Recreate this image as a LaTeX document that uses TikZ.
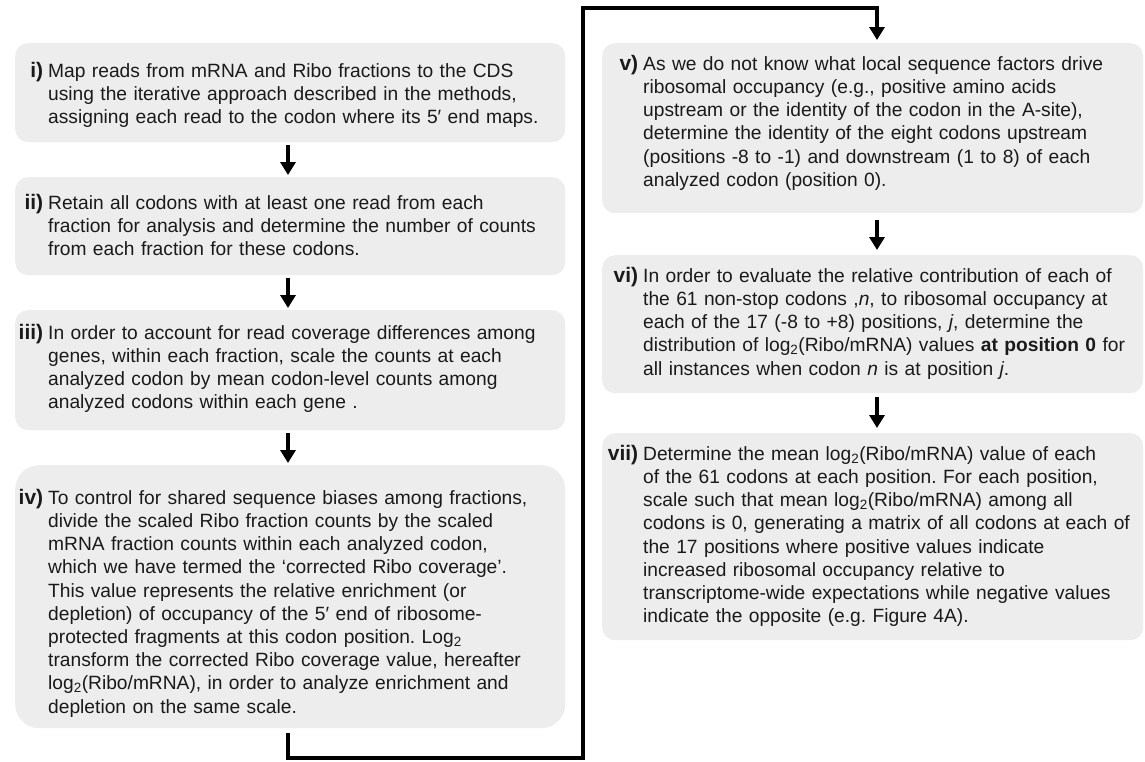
\documentclass[tikz,border=0pt]{standalone}
\usepackage{fontspec}
\setmainfont{Liberation Sans}
\usetikzlibrary{arrows.meta,calc}
\definecolor{boxgray}{HTML}{EDEDED}
\definecolor{ink}{HTML}{1A1A1A}
\newcommand{\steplbl}[1]{\strut\llap{\fontsize{21}{23.2}\selectfont\bfseries #1\hspace{5pt}}}
\newcommand{\mylog}{log\textsubscript{2}}
\frenchspacing
\begin{document}
\begin{tikzpicture}[x=1pt,y=-1pt,
  stepbox/.style={fill=boxgray, rounded corners=13pt, inner sep=0pt, anchor=north west},
  txt/.style={anchor=north west, inner sep=0pt, align=left, text width=560pt, text=ink,
    font=\fontsize{19.2}{23.2}\selectfont\frenchspacing},
  arr/.style={line width=4pt, draw=black, -{Triangle[width=15pt,length=13pt]}}]
\useasboundingbox (0,0) rectangle (1145,761);
\fill[white] (0,0) rectangle (1145,761);
% boxes
\node[stepbox, minimum width=550pt, minimum height=99pt] (b1) at (15,43) {};
\node[stepbox, minimum width=550pt, minimum height=98pt] (b2) at (15,177) {};
\node[stepbox, minimum width=550pt, minimum height=120pt] (b3) at (15,310) {};
\node[stepbox, rounded corners=24pt, minimum width=550pt, minimum height=263pt] (b4) at (15,465) {};
\node[stepbox, minimum width=541pt, minimum height=170pt] (b5) at (602,43) {};
\node[stepbox, minimum width=541pt, minimum height=138pt] (b6) at (602,255) {};
\node[stepbox, minimum width=541pt, minimum height=207pt] (b7) at (602,433) {};
% texts
\node[txt] (t1) at (48,60.76) {\steplbl{i)}Map reads from mRNA and Ribo fractions to the CDS\\
using the iterative approach described in the methods,\\
assigning each read to the codon where its 5′ end maps.};
\node[txt] (t2) at (48,192.76) {\steplbl{ii)}Retain all codons with at least one read from each\\
fraction for analysis and determine the number of counts\\
from each fraction for these codons.};
\node[txt] (t3) at (48,322.76) {\steplbl{iii)}In order to account for read coverage differences among\\
genes, within each fraction, scale the counts at each\\
analyzed codon by mean codon-level counts among\\
analyzed codons within each gene .};
\node[txt] (t4) at (48,487.76) {\steplbl{iv)}To control for shared sequence biases among fractions,\\
divide the scaled Ribo fraction counts by the scaled\\
mRNA fraction counts within each analyzed codon,\\
which we have termed the ‘corrected Ribo coverage’.\\
This value represents the relative enrichment (or\\
depletion) of occupancy of the 5′ end of ribosome-\\
protected fragments at this codon position. Log\textsubscript{2}\\
transform the corrected Ribo coverage value, hereafter\\
\mylog(Ribo/mRNA), in order to analyze enrichment and\\
depletion on the same scale.};
\node[txt] (t5) at (643,53.76) {\steplbl{v)}As we do not know what local sequence factors drive\\
ribosomal occupancy (e.g., positive amino acids\\
upstream or the identity of the codon in the A-site),\\
determine the identity of the eight codons upstream\\
(positions -8 to -1) and downstream (1 to 8) of each\\
analyzed codon (position 0).};
\node[txt] (t6) at (643,265.76) {\steplbl{vi)}In order to evaluate the relative contribution of each of\\
the 61 non-stop codons ,\textit{n}, to ribosomal occupancy at\\
each of the 17 (-8 to +8) positions, \textit{j}, determine the\\
distribution of \mylog(Ribo/mRNA) values \textbf{at position 0} for\\
all instances when codon \textit{n} is at position \textit{j}.};
\node[txt] (t7) at (643,443.76) {\steplbl{vii)}Determine the mean \mylog(Ribo/mRNA) value of each\\
of the 61 codons at each position. For each position,\\
scale such that mean \mylog(Ribo/mRNA) among all\\
codons is 0, generating a matrix of all codons at each of\\
the 17 positions where positive values indicate\\
increased ribosomal occupancy relative to\\
transcriptome-wide expectations while negative values\\
indicate the opposite (e.g. Figure 4A).};
% connector helpers
\coordinate (cl) at (288,0);
\coordinate (cr) at (877,0);
\coordinate (k1) at (583,758);
\coordinate (k2) at (583,8);
% arrows
\draw[arr, shorten <=3pt, shorten >=2pt] (b1.south -| cl) -- (b2.north -| cl);
\draw[arr, shorten <=3pt, shorten >=2pt] (b2.south -| cl) -- (b3.north -| cl);
\draw[arr, shorten <=3pt, shorten >=2pt] (b3.south -| cl) -- (b4.north -| cl);
\draw[arr, shorten <=5pt, shorten >=3pt] (b4.south -| cl) |- (k1) -- (k2) -| (b5.north -| cr);
\draw[arr, shorten <=7pt, shorten >=5pt] (b5.south -| cr) -- (b6.north -| cr);
\draw[arr, shorten <=4pt, shorten >=5pt] (b6.south -| cr) -- (b7.north -| cr);
\end{tikzpicture}
\end{document}
